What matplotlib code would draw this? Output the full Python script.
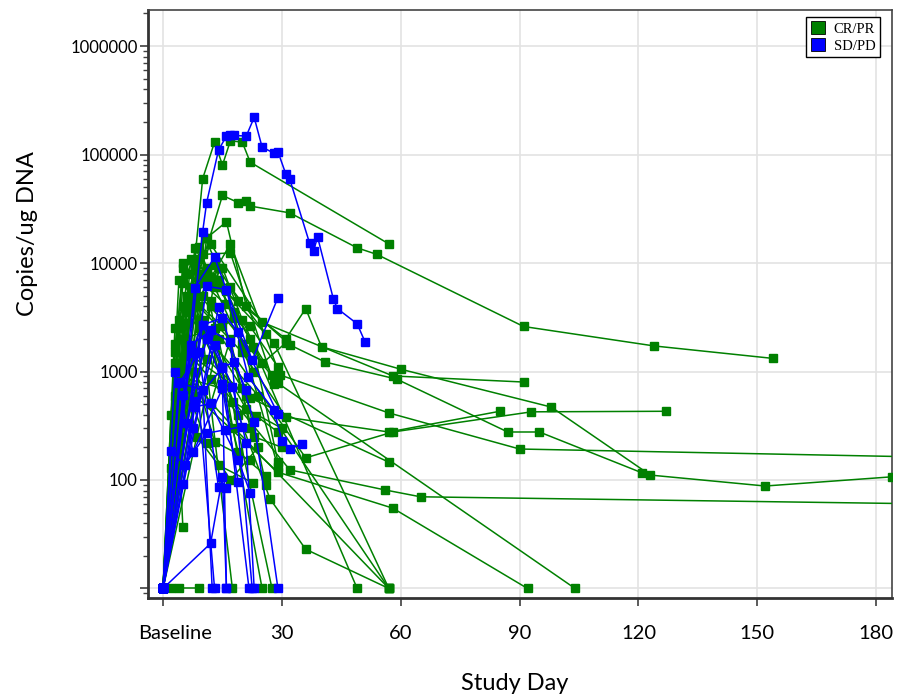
import numpy as np
import matplotlib
matplotlib.use("Agg")
import matplotlib.pyplot as plt
import matplotlib.transforms as mtransforms
from matplotlib.patches import Patch
from matplotlib.ticker import LogLocator, FixedLocator, NullFormatter

# Dados (0 = abaixo do limite, desenhado no fundo do eixo)
cr_days = [
    [0, 10, 13, 15, 17, 20, 22, 57],
    [0, 9, 15, 19, 21, 22, 32, 49, 54, 91, 124, 154],
    [0, 8, 14, 31, 36, 40, 60, 98, 123, 152, 184],
    [0, 11, 16, 21, 32, 41, 59, 87, 95, 121],
    [0, 6, 12, 25, 58, 91],
    [0, 7, 17, 29.5, 57, 90, 210],
    [0, 9, 20, 31, 57, 85],
    [0, 5, 13, 36, 58, 93, 127],
    [0, 6, 22, 57],
    [0, 4, 15, 32, 56, 65, 210],
    [0, 10, 27, 36, 57],
    [0, 8, 29, 58, 92],
    [0, 12, 29, 104],
    [0, 11, 22, 49],
    [0, 13, 28, 57],
    [0, 5, 18, 57],
    [0, 9, 24, 57],
    [0, 2, 4, 9],
    [0, 3, 5],
    [0, 8, 17.5],
    [0, 12, 25],
    [0, 14, 27.5],
    [0, 5, 10, 17, 28],
    [0, 7, 11, 16, 22.7, 29],
    [0, 6, 9, 13, 20.7, 29],
    [0, 4, 8, 15, 23, 30],
    [0, 3, 7, 12, 19, 26],
    [0, 5, 10, 17.7, 23.5, 29],
    [0, 3, 6, 13, 22],
    [0, 4, 8.6, 14, 22.7],
    [0, 2, 6, 11, 17, 24],
    [0, 6, 10, 18, 27.5],
    [0, 2, 5, 11, 21, 26],
    [0, 9, 13, 16, 22, 29],
    [0, 4, 10, 15, 20, 25],
    [0, 3, 8, 12, 17, 22],
    [0, 7, 10.6, 14, 19],
    [0, 3, 5, 9, 14, 20],
    [0, 6, 8, 12, 17, 26],
    [0, 2, 4, 7, 13, 20],
    [0, 3, 6, 9, 15, 21, 30],
    [0, 4, 7, 12, 19],
    [0, 5, 8, 15, 18, 22.7, 31],
]
cr_copies = [
    [0, 60000, 130000, 80000, 134000, 130000, 85000, 15000],
    [0, 8000, 42000, 36000, 37000, 33500, 29000, 13800, 12000, 2600, 1720, 1320],
    [0, 13700, 6000, 2000, 3800, 1690, 1050, 470, 111, 88, 107],
    [0, 17000, 24000, 4000, 1760, 1220, 850, 277, 277, 116],
    [0, 5000, 15000, 2850, 910, 800],
    [0, 3500, 15000, 930, 415, 193, 158],
    [0, 4000, 1500, 380, 277, 430],
    [0, 2000, 2500, 160, 277, 425, 430],
    [0, 1500, 570, 146],
    [0, 900, 700, 124, 81, 70, 59],
    [0, 3000, 67, 23, 0],
    [0, 600, 118, 55, 0],
    [0, 4500, 780, 0],
    [0, 9000, 2000, 0],
    [0, 7000, 1840, 0],
    [0, 1000, 300, 0],
    [0, 2500, 600, 0],
    [0, 0, 0, 0],
    [0, 1200, 37],
    [0, 9000, 0],
    [0, 4000, 0],
    [0, 2000, 0],
    [0, 10000, 12000, 12400, 770],
    [0, 11000, 8000, 5500, 1690, 147],
    [0, 8000, 14000, 6000, 1500, 132],
    [0, 7000, 5500, 3000, 250, 200],
    [0, 2500, 6000, 2000, 180, 110],
    [0, 4000, 2200, 525, 390, 277],
    [0, 600, 1800, 225, 152],
    [0, 1200, 250, 137, 94],
    [0, 130, 700, 220, 100, 200],
    [0, 2800, 6500, 3500, 930],
    [0, 60, 400, 1300, 600, 90],
    [0, 7000, 9500, 4200, 2600, 1100],
    [0, 3000, 5000, 9000, 3000, 1200],
    [0, 160, 1000, 500, 2000, 300],
    [0, 5000, 17000, 9000, 4500],
    [0, 1500, 9000, 11000, 7000, 1800],
    [0, 3500, 10500, 7500, 6000, 2200],
    [0, 400, 2500, 4500, 1800, 700],
    [0, 1800, 4200, 3000, 1100, 450, 300],
    [0, 250, 1400, 850, 400],
    [0, 6500, 4500, 2600, 3100, 1000, 1840],
]

sd_days = [
    [0, 10, 11, 14, 16, 17, 18, 21, 23, 25, 28, 29, 31, 32, 37, 38, 39, 43, 44, 49, 51],
    [0, 8, 13, 22.5, 29],
    [0, 11, 16, 21.5, 28, 30, 32, 35],
    [0, 14, 19, 29],
    [0, 10, 15, 23, 29],
    [0, 7, 12, 17, 22.5],
    [0, 12, 15, 16],
    [0, 4, 10, 12.4],
    [0, 5, 8, 13],
    [0, 6, 11, 15, 16],
    [0, 8, 15, 21.7],
    [0, 7.6, 13, 17.5, 21, 23],
    [0, 2, 5.5, 11, 15.7, 20],
    [0, 5, 8, 12, 19, 22],
    [0, 4.3, 9, 14, 16],
    [0, 7, 10, 15, 18, 21],
    [0, 3, 7.6, 15, 19],
]
sd_copies = [
    [0, 19500, 36000, 110000, 148000, 150000, 150000, 148000, 220000, 117000, 103000,
     106000, 66000, 59000, 15200, 12900, 17400, 4650, 3800, 2750, 1870],
    [0, 5900, 11300, 1270, 4800],
    [0, 6100, 5700, 890, 440, 230, 193, 215],
    [0, 3900, 2300, 405],
    [0, 2700, 3100, 340, 0],
    [0, 1750, 2400, 1870, 0],
    [0, 26, 107, 0],
    [0, 790, 675, 0],
    [0, 610, 1480, 0],
    [0, 335, 2000, 770, 0],
    [0, 530, 1080, 0],
    [0, 300, 1750, 720, 220, 0],
    [0, 185, 137, 270, 290, 310],
    [0, 92, 470, 510, 152, 76],
    [0, 800, 1500, 86, 84],
    [0, 1480, 2700, 1100, 1220, 670],
    [0, 1000, 180, 700, 95],
]

x_ticks = [0, 30, 60, 90, 120, 150, 180]
x_tick_labels = ["Baseline", "30", "60", "90", "120", "150", "180"]
y_ticks = [10, 100, 1000, 10000, 100000, 1000000]
y_tick_labels = ["", "100", "1000", "10000", "100000", "1000000"]

VERDE = "#008000"
AZUL = "#0000ff"
PISO = 10  # valores 0 desenhados aqui

plt.rcParams["font.family"] = ["Lato", "DejaVu Sans"]

fig = plt.figure(figsize=(9.04, 6.96), dpi=100)
ax = fig.add_axes([148 / 904, 1 - 598 / 696, 744 / 904, 588 / 696])


def desenhar(dias, copias, cor):
    for d, c in zip(dias, copias):
        c = np.array(c, dtype=float)
        c[c <= 0] = PISO
        ax.plot(d, c, color=cor, lw=1.1, marker="s", ms=5.5,
                mfc=cor, mec=cor, zorder=3)


desenhar(cr_days, cr_copies, VERDE)
desenhar(sd_days, sd_copies, AZUL)

ax.set_yscale("log")
ax.set_xlim(-3.8, 184)
ax.set_ylim(8.17, 2.15e6)

ax.xaxis.set_major_locator(FixedLocator(x_ticks))
ax.set_xticklabels(x_tick_labels, fontsize=14.5)
ax.yaxis.set_major_locator(FixedLocator(y_ticks))
ax.set_yticklabels(y_tick_labels, fontsize=12)
ax.yaxis.set_minor_locator(LogLocator(base=10, subs=np.arange(2, 10), numticks=20))
ax.yaxis.set_minor_formatter(NullFormatter())

ax.tick_params(axis="x", which="major", length=5.5, width=1.2, pad=14, color="#404040")
ax.tick_params(axis="y", which="major", length=5.8, width=1.2, pad=1.5, color="#404040")
ax.tick_params(axis="y", which="minor", length=3.5, width=1.0, color="#404040")

# "Baseline" aparece deslocado um pouco para a direita no original
tick_base = ax.xaxis.get_major_ticks()[0]
tick_base.label1.set_transform(tick_base.label1.get_transform() +
                               mtransforms.ScaledTranslation(12 / 100, 0, fig.dpi_scale_trans))

ax.grid(True, which="major", color="#e3e3e3", lw=1.2, zorder=0)
ax.set_axisbelow(True)

for lado in ["top", "right"]:
    ax.spines[lado].set_color("#444444")
    ax.spines[lado].set_linewidth(1.2)
for lado in ["left", "bottom"]:
    ax.spines[lado].set_color("#333333")
    ax.spines[lado].set_linewidth(2.0)

ax.set_xlabel("Study Day", fontsize=17)
ax.xaxis.set_label_coords((515 - 148) / 744, (598 - 673) / 588)
ax.set_ylabel("Copies/ug DNA", fontsize=17)
ax.yaxis.set_label_coords((38 - 148) / 744, (598 - 234) / 588)

handles = [Patch(facecolor=VERDE, edgecolor="black", lw=0.6, label="CR/PR"),
           Patch(facecolor=AZUL, edgecolor="black", lw=0.6, label="SD/PD")]
leg = ax.legend(handles=handles, loc="upper right",
                bbox_to_anchor=((880 - 148) / 744, (598 - 17) / 588),
                borderaxespad=0, fancybox=False, framealpha=1,
                prop={"family": "Liberation Serif", "size": 10.5},
                handlelength=1.0, handleheight=1.0, handletextpad=0.6,
                borderpad=0.3, labelspacing=0.15)
leg.get_frame().set_edgecolor("black")
leg.get_frame().set_linewidth(1.0)

fig.savefig("out.png", dpi=100)
